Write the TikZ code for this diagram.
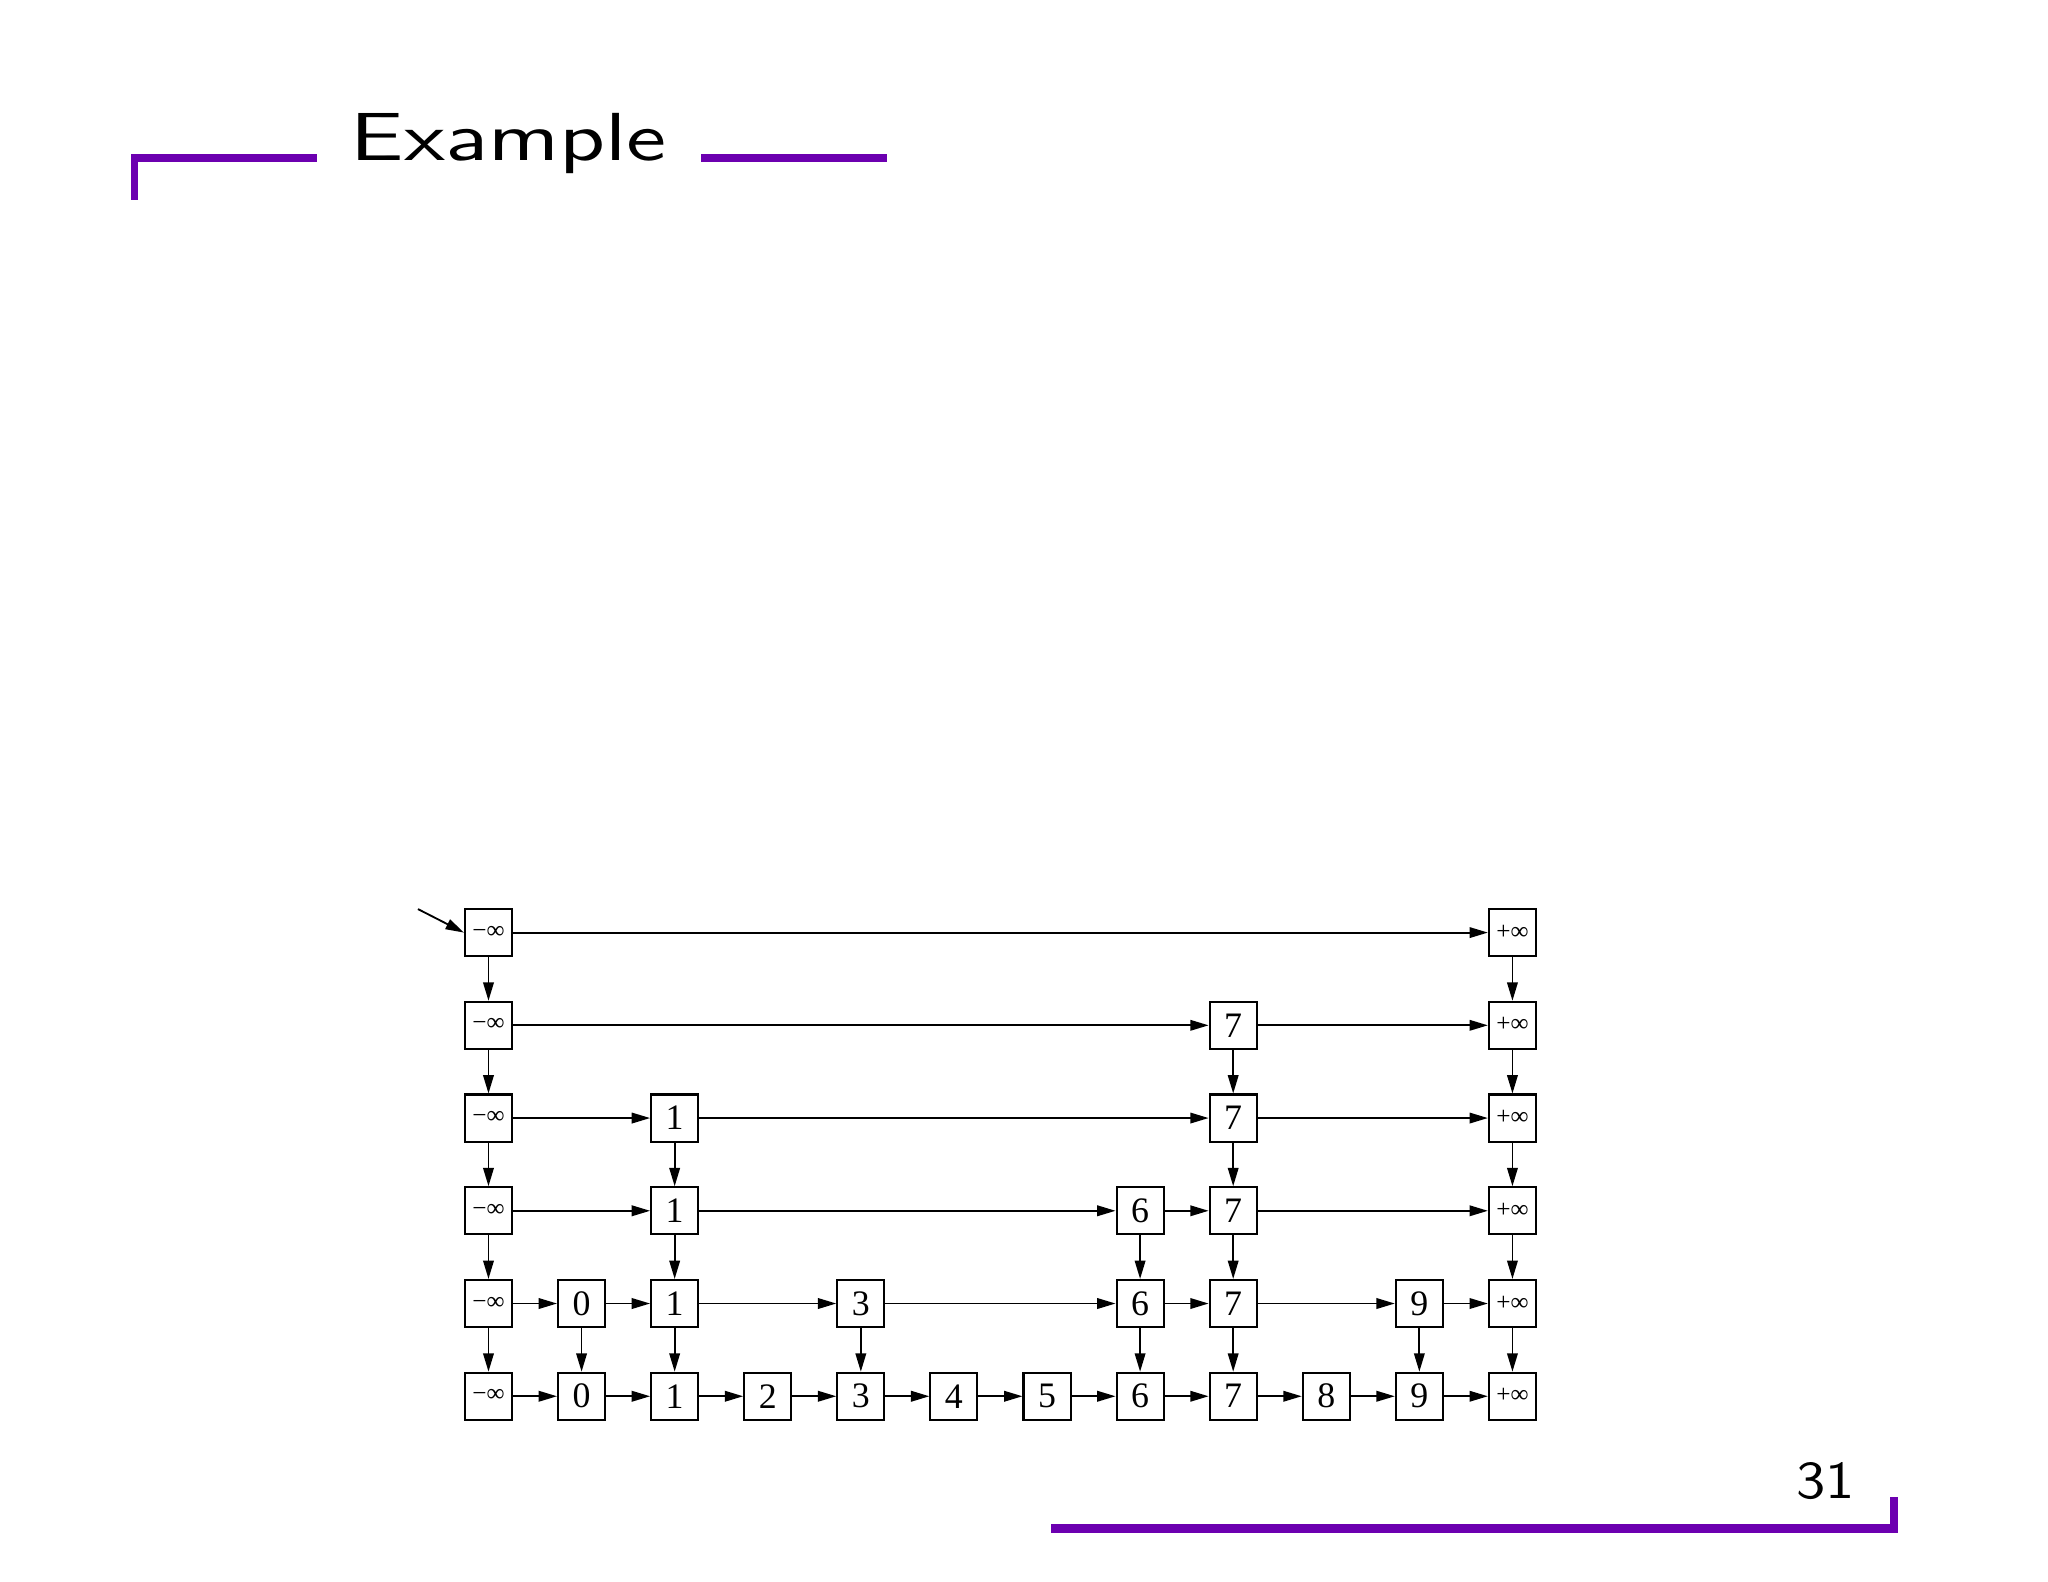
\documentclass[tikz,border=0pt]{standalone}
\usepackage{fontspec}
\newfontfamily\timesfont{Liberation Serif}
\usetikzlibrary{arrows.meta}
\definecolor{bar}{RGB}{108,0,176}
\newcommand{\boxlabel}[1]{%
  \ifnum#1=0 {\fontsize{5.5}{5.5}\selectfont\raisebox{0.2pt}{−∞}}%
  \else\ifnum#1=11 {\fontsize{5.5}{5.5}\selectfont\raisebox{0.2pt}{+∞}}%
  \else\the\numexpr#1-1\relax\fi\fi}
\begin{document}
\begin{tikzpicture}[x=0.01cm,y=-0.01cm,
  cell/.style={draw,line width=0.45pt,minimum size=0.36cm,inner sep=0pt,
    font=\timesfont\fontsize{7.8}{7.8}\selectfont},
  arr/.style={line width=0.4pt,-{Triangle[length=4pt,width=2.3pt]}},
  barfill/.style={fill=bar,draw=none}]
\useasboundingbox (0,0) rectangle (1568,1211);
% title and frame
\node[anchor=base west,inner sep=0pt,font=\sffamily\fontsize{14.8}{14.8}\selectfont] (title) at (268,123) {\scalebox{1.35}[1]{Example}};
\node[anchor=base east,inner sep=0pt,font=\sffamily\fontsize{11.6}{11.6}\selectfont] (page) at (1421,1147) {\scalebox{1.12}[1]{31}};
\fill[barfill] (100,118) rectangle (243,124);
\fill[barfill] (100,118) rectangle (106,153);
\fill[barfill] (537,118) rectangle (679,124);
\fill[barfill] (805,1167) rectangle (1453,1174);
\fill[barfill] (1447,1146) rectangle (1453,1174);
% skip list: nodes and horizontal links
\foreach \r/\cols in {1/{0,11},2/{0,8,11},3/{0,2,8,11},4/{0,2,7,8,11},5/{0,1,2,4,7,8,10,11},6/{0,1,2,3,4,5,6,7,8,9,10,11}}{
  \foreach \c [remember=\c as \p (initially -1)] in \cols {
    \node[cell] (n\r-\c) at ({374+\c*71.27},{714+(\r-1)*71}) {\boxlabel{\c}};
    \ifnum\p>-1 \draw[arr] (n\r-\p) -- (n\r-\c);\fi
  }
}
% vertical links
\foreach \r/\s/\cols in {1/2/{0,11},2/3/{0,8,11},3/4/{0,2,8,11},4/5/{0,2,7,8,11},5/6/{0,1,2,4,7,8,10,11}}{
  \foreach \c in \cols { \draw[arr] (n\r-\c) -- (n\s-\c); }
}
\coordinate (start) at (320,696);
\draw[arr] (start) -- (n1-0.west);
\end{tikzpicture}
\end{document}
